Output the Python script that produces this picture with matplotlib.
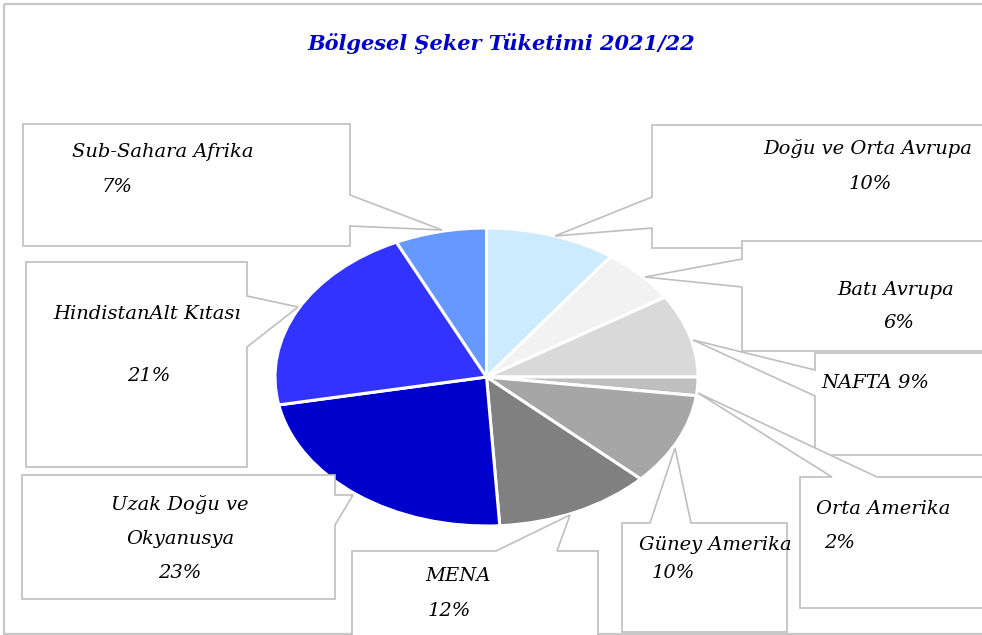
import matplotlib
matplotlib.use("Agg")
import matplotlib.pyplot as plt
from matplotlib.patches import Polygon, Rectangle

# ---- data ----
regions = ["Doğu ve Orta Avrupa", "Batı Avrupa", "NAFTA", "Orta Amerika",
           "Güney Amerika", "MENA", "Uzak Doğu ve Okyanusya",
           "HindistanAlt Kıtası", "Sub-Sahara Afrika"]
shares = [10, 6, 9, 2, 10, 12, 23, 21, 7]
colors = ["#CCEBFF", "#F2F2F2", "#D9D9D9", "#BFBFBF", "#A6A6A6",
          "#808080", "#0000CC", "#3333FF", "#6699FF"]
title = "Bölgesel Şeker Tüketimi 2021/22"

# label text lines per region (as displayed)
label_lines = [
    ["Doğu ve Orta Avrupa", "10%"],
    ["Batı Avrupa", "6%"],
    ["NAFTA 9%"],
    ["Orta Amerika", "2%"],
    ["Güney Amerika", "10%"],
    ["MENA", "12%"],
    ["Uzak Doğu ve", "Okyanusya", "23%"],
    ["HindistanAlt Kıtası", "21%"],
    ["Sub-Sahara Afrika", "7%"],
]

# ---- layout (pixel coordinates, y downwards) ----
W, H = 982, 635
boxes = [  # callout outlines
    [(652,125),(995,125),(995,248),(652,248),(652,228),(555,236),(652,197)],
    [(742,241),(995,241),(995,351),(742,351),(742,287),(645,277),(742,259)],
    [(815,353),(995,353),(995,455),(815,455),(815,396),(693,340),(815,370)],
    [(800,477),(832,477),(698,393),(877,477),(995,477),(995,608),(800,608)],
    [(622,523),(650,523),(675,448),(691,523),(787,523),(787,632),(622,632)],
    [(352,551),(496,551),(570,515),(557,551),(598,551),(598,645),(352,645)],
    [(22,475),(335,475),(335,495),(353,495),(335,525),(335,599),(22,599)],
    [(26,262),(247,262),(247,296),(298,307),(247,347),(247,467),(26,467)],
    [(23,124),(350,124),(350,195),(442,230),(350,226),(350,246),(23,246)],
]
text_pos = [  # centre of each text line
    [(868,149),(870,184)],
    [(896,290),(899,323)],
    [(875,383)],
    [(883,509),(840,543)],
    [(715,545),(673,573)],
    [(458,576),(449,611)],
    [(180,504),(180,539),(180,573)],
    [(147,314),(149,376)],
    [(163,152),(117,187)],
]

fig = plt.figure(figsize=(W/100, H/100), dpi=100)
fig.patch.set_facecolor("white")

# pie (squashed ellipse)
pl, pr, pt, pb = 275, 698, 228, 526
pax = fig.add_axes([pl/W, (H-pb)/H, (pr-pl)/W, (pb-pt)/H])
pax.pie(shares, colors=colors, startangle=90, counterclock=False,
        wedgeprops=dict(edgecolor="white", linewidth=2.2))
pax.set_aspect("auto")
pax.set_xlim(-1, 1)
pax.set_ylim(-1, 1)
pax.axis("off")

# overlay in pixel space
ov = fig.add_axes([0, 0, 1, 1])
ov.set_xlim(0, W)
ov.set_ylim(H, 0)
ov.axis("off")
ov.patch.set_alpha(0)

ov.add_patch(Rectangle((4, 4), 1000, 630, fill=False, edgecolor="#C8C8C8",
                       linewidth=1.6, zorder=1))

font = dict(family="DejaVu Serif", style="italic", fontsize=14, color="black")
for i, (poly, lines, pos) in enumerate(zip(boxes, label_lines, text_pos)):
    ov.add_patch(Polygon(poly, closed=True, facecolor="white",
                         edgecolor="#BFBFBF", linewidth=1.2, zorder=2 + i))
    for line, (x, y) in zip(lines, pos):
        ov.text(x, y, line, ha="center", va="center", zorder=2 + i + 0.5, **font)

ov.text(501, 44, title, ha="center", va="center", family="DejaVu Serif",
        style="italic", fontweight="bold", fontsize=15, color="#0000CC")

fig.savefig("out.png", dpi=100)
